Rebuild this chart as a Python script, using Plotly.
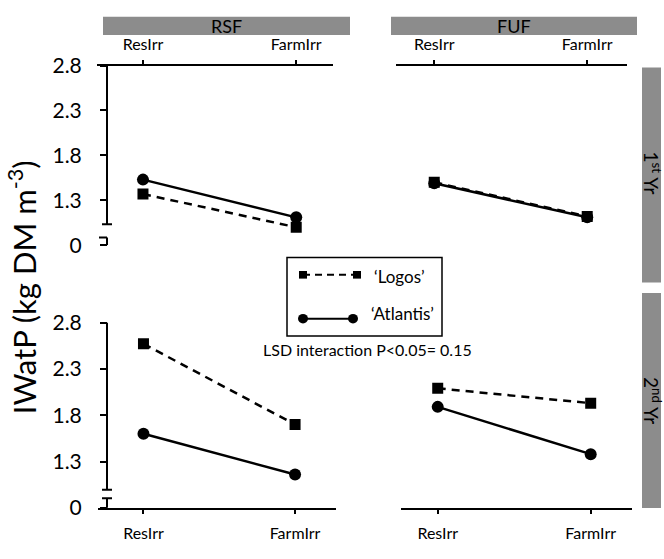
import plotly.graph_objects as go

# ---------------- data ----------------
categories = ["ResIrr", "FarmIrr"]
tick_values = [0.8, 1.3, 1.8, 2.3, 2.8]
tick_labels = ["0", "1.3", "1.8", "2.3", "2.8"]

logos_rsf_y1 = [1.37, 1.00]
atlantis_rsf_y1 = [1.53, 1.11]
logos_fuf_y1 = [1.50, 1.12]
atlantis_fuf_y1 = [1.49, 1.11]
logos_rsf_y2 = [2.57, 1.70]
atlantis_rsf_y2 = [1.60, 1.16]
logos_fuf_y2 = [2.09, 1.93]
atlantis_fuf_y2 = [1.89, 1.38]

W, H = 664, 559
FONT = "Lato"
STRIP = "#8c8c8c"
TXT = "#000"


def px(x):
    return x / W


def py(y):
    return 1 - y / H


xpos = list(range(len(categories)))

fig = go.Figure()

panels = [
    ("x", "y", logos_rsf_y1, atlantis_rsf_y1),
    ("x2", "y2", logos_fuf_y1, atlantis_fuf_y1),
    ("x3", "y3", logos_rsf_y2, atlantis_rsf_y2),
    ("x4", "y4", logos_fuf_y2, atlantis_fuf_y2),
]
for xa, ya, lg, at in panels:
    fig.add_trace(go.Scatter(x=xpos, y=at, xaxis=xa, yaxis=ya, mode="lines+markers",
                             line=dict(color="black", width=2.5),
                             marker=dict(symbol="circle", size=12, color="black"),
                             showlegend=False, hoverinfo="skip"))
    fig.add_trace(go.Scatter(x=xpos, y=lg, xaxis=xa, yaxis=ya, mode="lines+markers",
                             line=dict(color="black", width=2.5, dash="8px,6px"),
                             marker=dict(symbol="square", size=11, color="black"),
                             showlegend=False, hoverinfo="skip"))

xcommon = dict(tickmode="array", tickvals=xpos, ticktext=categories,
               showline=True, linecolor="black", linewidth=2,
               ticks="outside", ticklen=4, tickwidth=2, tickcolor="black",
               tickfont=dict(family=FONT, size=16, color=TXT),
               showgrid=False, zeroline=False, fixedrange=True)
yleft = dict(range=[0.8, 2.8], tickmode="array", tickvals=tick_values, ticktext=tick_labels,
             showline=False, ticks="outside", ticklen=7, tickwidth=2, tickcolor="black",
             tickfont=dict(family=FONT, size=21, color=TXT), ticklabelstandoff=14,
             showgrid=False, zeroline=False, anchor="free", position=px(107), fixedrange=True)
yright = dict(range=[0.8, 2.8], visible=False, showgrid=False, zeroline=False, fixedrange=True)

top_dom = [py(242), py(54)]
bot_dom = [py(517), py(323)]

fig.update_layout(
    width=W, height=H, margin=dict(l=0, r=0, t=0, b=0),
    paper_bgcolor="white", plot_bgcolor="white",
    font=dict(family=FONT, color=TXT),
    xaxis=dict(xcommon, domain=[px(97), px(333)], anchor="y", side="top", range=[-0.30, 1.24],
               ticklabelstandoff=3),
    yaxis=dict(yleft, domain=top_dom),
    xaxis2=dict(xcommon, domain=[px(396), px(627)], anchor="y2", side="top", range=[-0.25, 1.26],
                ticklabelstandoff=3),
    yaxis2=dict(yright, domain=top_dom, anchor="x2"),
    xaxis3=dict(xcommon, domain=[px(98), px(336)], anchor="y3", side="bottom", range=[-0.30, 1.27],
                ticklabelstandoff=6),
    yaxis3=dict(yleft, domain=bot_dom),
    xaxis4=dict(xcommon, domain=[px(401), px(632)], anchor="y4", side="bottom", range=[-0.24, 1.27],
                ticklabelstandoff=6),
    yaxis4=dict(yright, domain=bot_dom, anchor="x4"),
)

shapes = []
# strips
for x0, y0, x1, y1 in [(103, 3, 350, 22), (391, 3, 637, 22), (642, 56, 661, 281), (642, 292, 661, 517)]:
    shapes.append(dict(type="rect", xref="paper", yref="paper", x0=px(x0), x1=px(x1),
                       y0=py(y1), y1=py(y0), fillcolor=STRIP, line=dict(width=0), layer="below"))

ax_line = dict(color="black", width=2)
# broken y-axis, top-left
shapes += [
    dict(type="line", xref="paper", yref="y", x0=px(107), x1=px(107), y0=2.8, y1=1.034, line=ax_line),
    dict(type="line", xref="paper", yref="y", x0=px(102), x1=px(112), y0=1.034, y1=1.034, line=ax_line),
    dict(type="line", xref="paper", yref="y", x0=px(99), x1=px(107), y0=0.885, y1=0.885, line=ax_line),
    dict(type="line", xref="paper", yref="y", x0=px(107), x1=px(107), y0=0.885, y1=0.8, line=ax_line),
]
# broken y-axis, bottom-left
shapes += [
    dict(type="line", xref="paper", yref="y3", x0=px(107), x1=px(107), y0=2.8, y1=0.996, line=ax_line),
    dict(type="line", xref="paper", yref="y3", x0=px(102), x1=px(112), y0=0.996, y1=0.996, line=ax_line),
    dict(type="line", xref="paper", yref="y3", x0=px(102), x1=px(112), y0=0.903, y1=0.903, line=ax_line),
    dict(type="line", xref="paper", yref="y3", x0=px(107), x1=px(107), y0=0.903, y1=0.8, line=ax_line),
]
# legend box
shapes.append(dict(type="rect", xref="paper", yref="paper", x0=px(287), x1=px(442),
                   y0=py(337), y1=py(255), line=dict(color="black", width=1.5), fillcolor="white"))
shapes.append(dict(type="line", xref="paper", yref="paper", x0=px(303), x1=px(357), y0=py(273), y1=py(273),
                   line=dict(color="black", width=2, dash="7px,5px")))
shapes.append(dict(type="line", xref="paper", yref="paper", x0=px(303), x1=px(353), y0=py(319), y1=py(319),
                   line=dict(color="black", width=2)))
for cx in (303, 357):
    shapes.append(dict(type="rect", xref="paper", yref="paper", x0=px(cx - 4), x1=px(cx + 4),
                       y0=py(273 + 4), y1=py(273 - 4), fillcolor="black", line=dict(width=0)))
for cx in (303, 353):
    shapes.append(dict(type="circle", xref="paper", yref="paper", x0=px(cx - 5), x1=px(cx + 5),
                       y0=py(319 + 5), y1=py(319 - 5), fillcolor="black", line=dict(width=0)))
fig.update_layout(shapes=shapes)

ann = []


def add_text(text, x, y, size, angle=0, xanchor="center"):
    ann.append(dict(text=text, x=px(x), y=py(y), xref="paper", yref="paper", showarrow=False,
                    textangle=angle, xanchor=xanchor, yanchor="middle",
                    font=dict(family=FONT, size=size, color=TXT)))


add_text("RSF", 226, 13, 18)
add_text("FUF", 514, 13, 18)
add_text("1<sup>st</sup> Yr", 652, 166, 19, angle=90)
add_text("2<sup>nd</sup> Yr", 652, 404, 19, angle=90)
add_text("IWatP (kg DM m<sup>-3</sup>)", 22, 286, 31, angle=-90)
add_text("‘Logos’", 372, 275, 17, xanchor="left")
add_text("‘Atlantis’", 369, 313, 17, xanchor="left")
add_text("LSD interaction P<0.05= 0.15", 367, 351, 16)
fig.update_layout(annotations=ann)

fig.write_html("out.html")
